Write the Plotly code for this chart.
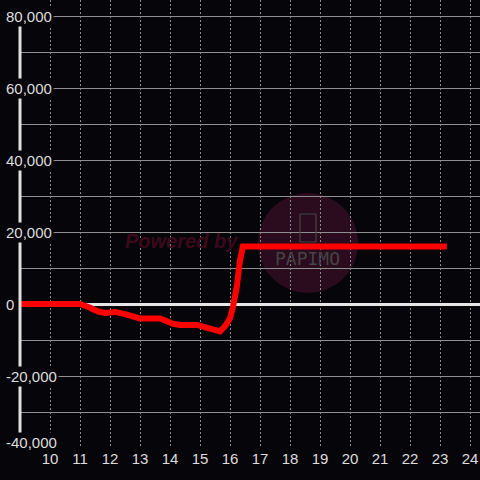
import plotly.graph_objects as go

# Data
hours = [9.0, 11.0, 11.3, 11.6, 11.85, 12.17, 12.5, 12.8, 13.0, 13.67, 13.85, 14.1, 14.33, 14.9, 15.1, 15.33, 15.67, 15.85, 16.0, 16.1, 16.23, 16.33, 16.43, 23.23]
values = [0, 0, -900, -2100, -2500, -2200, -2800, -3600, -4000, -4000, -4800, -5500, -5800, -5800, -6300, -6900, -7600, -6000, -4000, -800, 5000, 12000, 16000, 16000]
y_ticks = [80000, 60000, 40000, 20000, 0, -20000, -40000]
y_tick_text = ["80,000", "60,000", "40,000", "20,000", "0", "-20,000", "-40,000"]
x_ticks = list(range(10, 25))

BG = "#060509"
TXT = "#dedede"
FONT = "Liberation Sans"

fig = go.Figure()
fig.add_trace(go.Scatter(
    x=hours, y=values, mode="lines",
    line=dict(color="#ff0000", width=6, shape="linear"),
    hoverinfo="skip", showlegend=False,
))

fig.update_layout(
    width=480, height=480,
    margin=dict(l=20, r=0, t=0, b=32, autoexpand=False),
    paper_bgcolor=BG, plot_bgcolor=BG,
    showlegend=False,
    xaxis=dict(
        range=[9, 24.333], tickmode="array", tickvals=x_ticks,
        ticktext=[str(v) for v in x_ticks], automargin=False,
        showgrid=True, gridcolor="#8c8c8c", gridwidth=1, griddash="2px,2px",
        zeroline=False, showline=False, ticks="",
        tickfont=dict(family=FONT, size=15, color=TXT),
    ),
    yaxis=dict(
        range=[-40000, 84444], dtick=10000, tick0=0, automargin=False,
        showgrid=True, gridcolor="#8f8f8f", gridwidth=1,
        zeroline=True, zerolinecolor="#e6e6e6", zerolinewidth=3,
        showticklabels=False, showline=False, ticks="",
    ),
)

# watermark
fig.add_shape(type="circle", xref="paper", yref="paper",
              x0=0.517, x1=0.735, y0=0.346, y1=0.569,
              fillcolor="rgba(80,18,52,0.5)", line=dict(width=0), layer="below")
fig.add_shape(type="rect", xref="paper", yref="paper",
              x0=(300 - 20) / 460, x1=(316 - 20) / 460,
              y0=(448 - 242) / 448, y1=(448 - 214) / 448,
              line=dict(color="#444444", width=1.2), layer="above")
fig.add_annotation(text="<b><i>Powered by</i></b>", xref="paper", yref="paper",
                   x=0.352, y=0.462, showarrow=False,
                   font=dict(family=FONT, size=20, color="#3a0a1b"))
fig.add_annotation(text="PAPIMO", xref="paper", yref="paper",
                   x=0.626, y=0.424, showarrow=False,
                   font=dict(family="DejaVu Sans Mono", size=18, color="#444444"))

# y axis line
fig.add_shape(type="line", xref="paper", yref="y", x0=0, x1=0,
              y0=y_ticks[-1], y1=y_ticks[0], line=dict(color="#e0e0e0", width=3))

# y tick labels with background boxes
for i, (v, t) in enumerate(zip(y_ticks, y_tick_text)):
    fig.add_annotation(text=t, xref="paper", yref="y", x=(4 - 20) / 460, y=v,
                       xanchor="left", yanchor="middle", showarrow=False,
                       yshift=6 if i == len(y_ticks) - 1 else 0,
                       bgcolor=BG, borderpad=1,
                       font=dict(family=FONT, size=15, color=TXT))

fig.write_html("out.html", config={"displayModeBar": False},
               post_script="document.body.style.margin='0';document.body.style.background='%s';" % BG)
